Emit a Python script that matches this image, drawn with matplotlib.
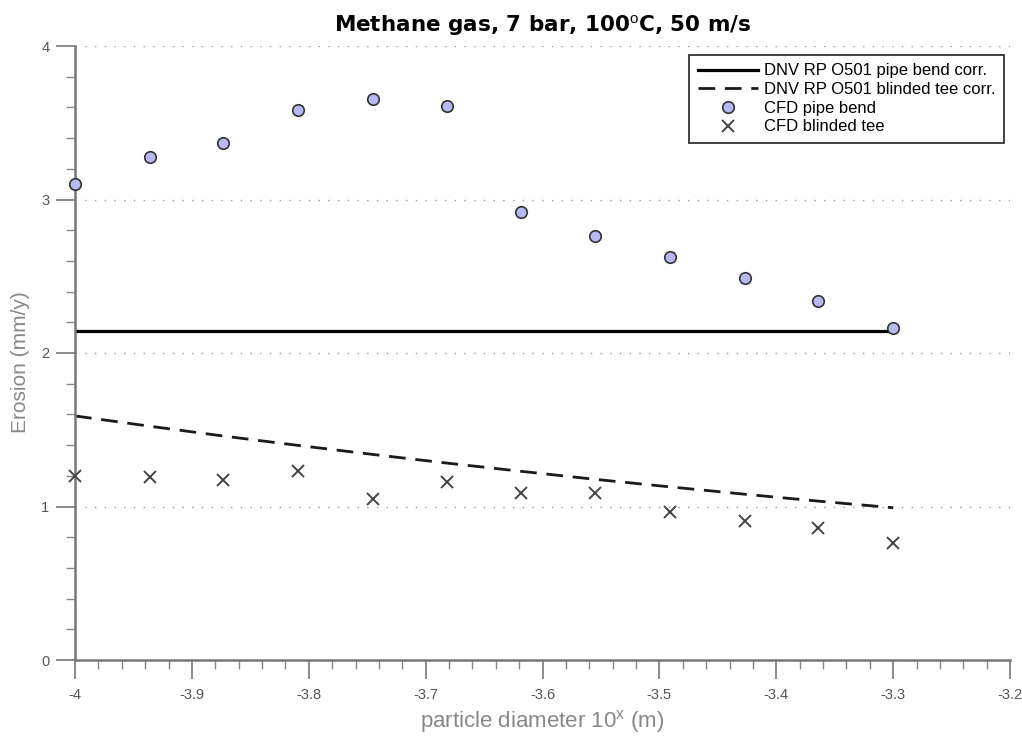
import matplotlib
matplotlib.use("Agg")
import matplotlib.pyplot as plt
from matplotlib.ticker import MultipleLocator, FormatStrFormatter

# ---- data ----
log_diam = [-4.000, -3.936, -3.873, -3.809, -3.745, -3.682,
            -3.618, -3.555, -3.491, -3.427, -3.364, -3.300]
cfd_pipe_bend = [3.10, 3.28, 3.37, 3.58, 3.655, 3.61,
                 2.92, 2.76, 2.625, 2.49, 2.34, 2.16]
cfd_blinded_tee = [1.20, 1.19, 1.17, 1.23, 1.05, 1.16,
                   1.09, 1.09, 0.965, 0.905, 0.86, 0.76]
dnv_pipe_bend = [2.143] * 12
dnv_blinded_tee = [1.590, 1.523, 1.459, 1.398, 1.339, 1.283,
                   1.229, 1.177, 1.128, 1.080, 1.035, 0.992]

labels = ["DNV RP O501 pipe bend corr.", "DNV RP O501 blinded tee corr.",
          "CFD pipe bend", "CFD blinded tee"]
title = r"Methane gas, 7 bar, 100$^{\rm o}$C, 50 m/s"
xlabel = r"particle diameter 10$^{\rm x}$ (m)"
ylabel = "Erosion (mm/y)"

plt.rcParams['font.family'] = ['Liberation Sans', 'DejaVu Sans']
plt.rcParams['mathtext.fontset'] = 'custom'
plt.rcParams['mathtext.rm'] = 'Liberation Sans'
plt.rcParams['axes.unicode_minus'] = False

fig = plt.figure(figsize=(10.22, 7.42), dpi=100)
ax = fig.add_axes([75/1022, 82/742, 935/1022, 614/742])

ax.plot(log_diam, dnv_pipe_bend, color='black', lw=2.3, label=labels[0])
ax.plot(log_diam, dnv_blinded_tee, color='#1a1a1a', lw=2.0, dashes=(6, 3.5),
        label=labels[1])
ax.plot(log_diam, cfd_pipe_bend, linestyle='none', marker='o', markersize=8.3,
        markerfacecolor='#b8b8f2', markeredgecolor='#333333', markeredgewidth=1.2,
        label=labels[2], clip_on=False, zorder=5)
ax.plot(log_diam, cfd_blinded_tee, linestyle='none', marker='x', markersize=9,
        color='#444444', markeredgewidth=1.4, label=labels[3], clip_on=False, zorder=5)

ax.set_xlim(-4, -3.2)
ax.set_ylim(0, 4)
ax.xaxis.set_major_locator(MultipleLocator(0.1))
ax.xaxis.set_minor_locator(MultipleLocator(0.02))
ax.yaxis.set_major_locator(MultipleLocator(1))
ax.yaxis.set_minor_locator(MultipleLocator(0.2))
ax.xaxis.set_major_formatter(FormatStrFormatter('%g'))
ax.yaxis.set_major_formatter(FormatStrFormatter('%g'))

for s in ['top', 'right']:
    ax.spines[s].set_visible(False)
for s in ['left', 'bottom']:
    ax.spines[s].set_color('#777777')
    ax.spines[s].set_linewidth(1.8)

ax.tick_params(which='major', direction='out', length=13.5, width=1.2,
               color='#777777', labelcolor='#555555', labelsize=10.5, pad=5)
ax.tick_params(axis='x', which='major', pad=7)
ax.tick_params(which='minor', direction='out', length=6.5, width=1.0,
               color='#888888')

ax.yaxis.grid(True, which='major', linestyle=(0, (1, 6)), color='#999999', lw=1.0)
ax.set_axisbelow(True)

ax.set_title(title, fontsize=15.5, fontweight='bold', pad=10,
             family=['DejaVu Sans'])
ax.set_xlabel(xlabel, fontsize=16, color='#888888')
ax.set_ylabel(ylabel, fontsize=15, color='#888888')
ax.xaxis.set_label_coords(0.5, -0.078)
ax.yaxis.set_label_coords(-0.048, 0.485)

leg = ax.legend(loc='upper right', bbox_to_anchor=(0.9936, 0.9853), borderaxespad=0,
                fontsize=12, frameon=True, fancybox=False, edgecolor='black',
                labelspacing=0.22, handlelength=3.6, handletextpad=0.4,
                borderpad=0.5)
leg.get_frame().set_linewidth(1.3)

fig.savefig("out.png", dpi=100)
